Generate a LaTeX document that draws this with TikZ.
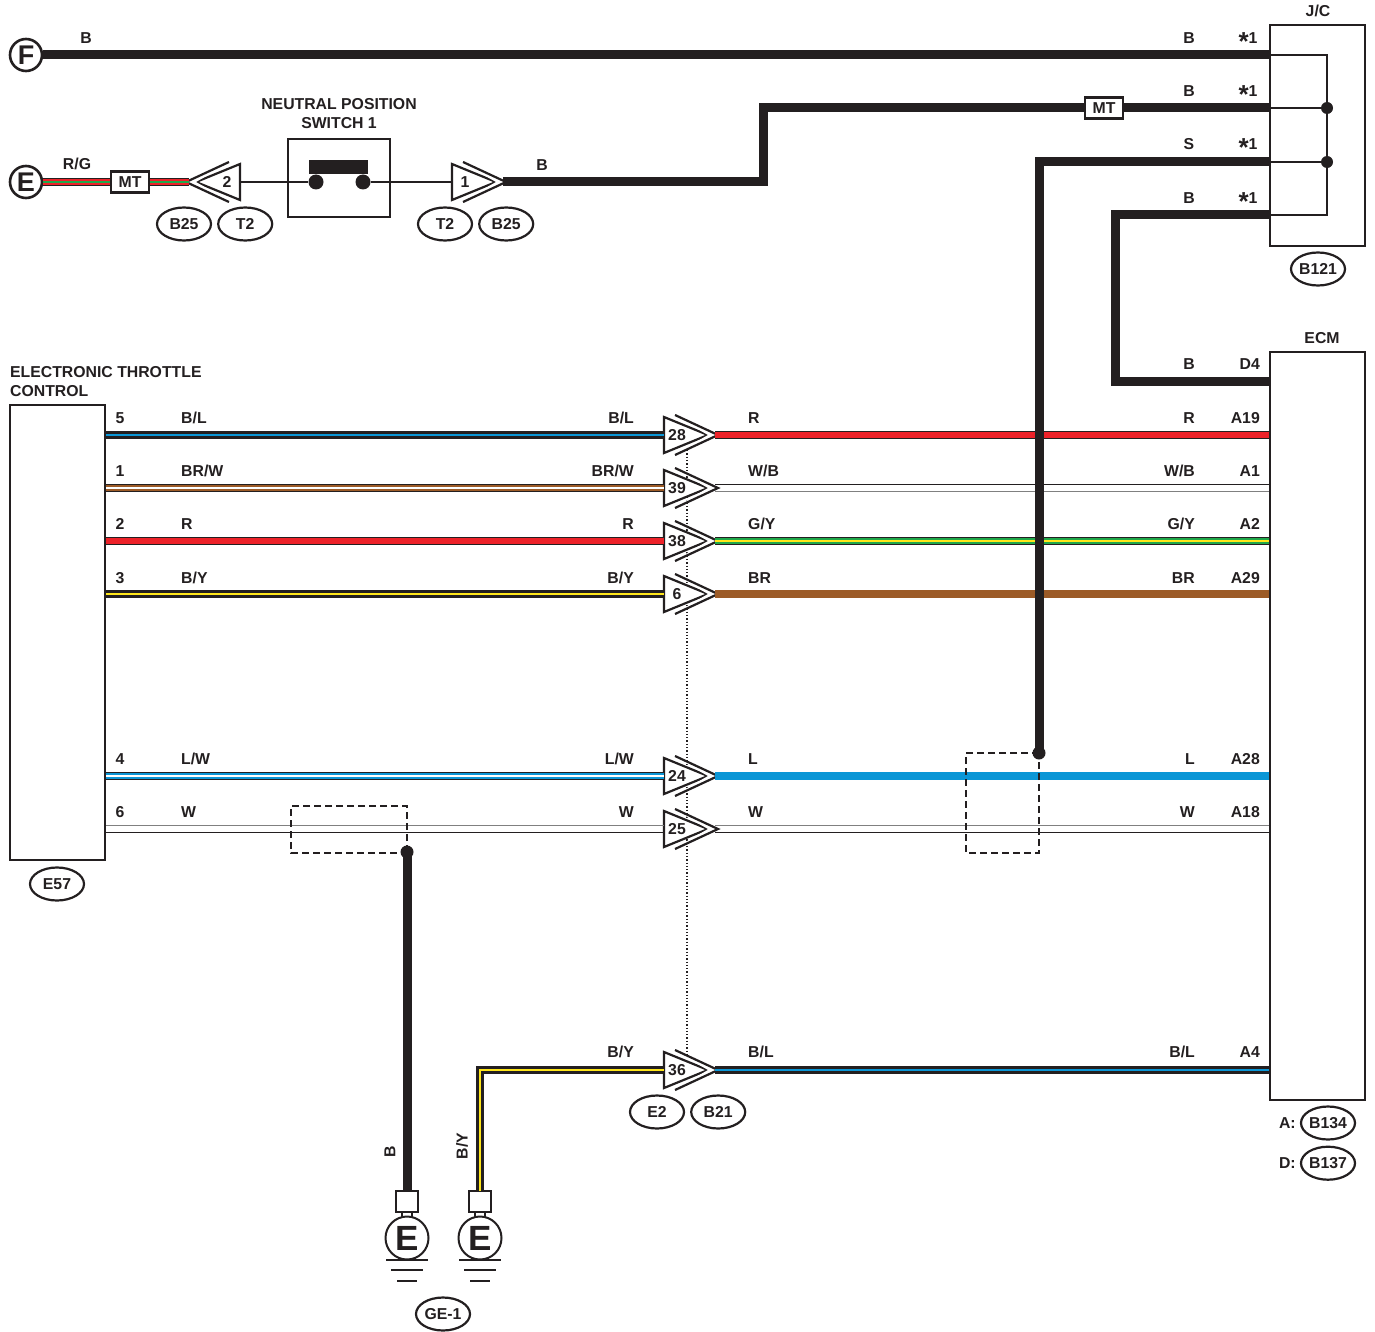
\documentclass[tikz,border=0pt]{standalone}
\usepackage{fontspec}
\setmainfont{Liberation Sans}
\usepackage{xcolor}
\usetikzlibrary{positioning,shapes.geometric}
\definecolor{inkblk}{HTML}{231F20}
\definecolor{wireblue}{HTML}{0A96D6}
\definecolor{wirered}{HTML}{ED2229}
\definecolor{wirebrown}{HTML}{9C5B27}
\definecolor{wiregreen}{HTML}{1FA84A}
\definecolor{wireyellow}{HTML}{FFE61A}
\newcommand{\wire}[3]{%
  \draw[wout] #3;
  \draw[wmid=#1] #3;
  \draw[wcore=#2] #3;}
\newcommand{\starone}{\smash{\raisebox{-7.5pt}{\fontsize{26}{26}\selectfont *}}1}
\tikzset{
  wout/.style={draw=inkblk, line width=8.2pt},
  wmid/.style={draw=#1, line width=6.2pt},
  wcore/.style={draw=#1, line width=2.4pt},
  thick wire/.style={draw=inkblk, line width=9pt},
  flat wire/.style={draw=#1, line width=8.5pt},
  thin wire/.style={draw=inkblk, line width=2pt},
  bare line/.style={draw=#1, line width=1.8pt},
  oval/.style={ellipse, draw=inkblk, line width=2.2pt, minimum width=54pt, minimum height=33pt},
  unit/.style={rectangle, draw=inkblk, line width=2.2pt},
  mtbox/.style={unit, fill=white, minimum width=38pt, minimum height=21pt},
  endcircle/.style={circle, draw=inkblk, line width=2.6pt, fill=white, minimum size=32pt, font=\fontsize{27}{27}\bfseries\selectfont},
  dot/.style={circle, fill=inkblk, minimum size=#1},
  conn/.pic={
    \draw[draw=inkblk, line width=2.2pt, miter limit=10, fill=white] (0,-18) -- (44,0) -- (0,18) -- cycle;
    \fill[white] (11,-19) -- (54,0) -- (11,19) -- (44,0) -- cycle;
    \draw[draw=inkblk, line width=2.2pt, miter limit=10] (11,-20) -- (54,0) -- (11,20);
    \node (-num) at (13,0) {#1};
    \coordinate (-in) at (0,0);
    \coordinate (-out) at (51,0);
    \coordinate (-inup) at (0,-3.5);
    \coordinate (-indn) at (0,3.5);
    \coordinate (-outup) at (51,-3.5);
    \coordinate (-outdn) at (51,3.5);
  },
  gnd/.pic={
    \draw[draw=inkblk, line width=2pt] (-5,20) -- (-5,27) (5,20) -- (5,27);
    \draw[draw=inkblk, line width=2pt, fill=white] (0,47) circle (21.5);
    \draw[draw=inkblk, line width=2pt, fill=white] (-11,0) rectangle (11,21);
    \node[font=\fontsize{35}{35}\bfseries\selectfont] (-e) at (0,47) {E};
    \draw[draw=inkblk, line width=2pt] (-21,69) -- (21,69) (-16,79) -- (16,79) (-10,90) -- (10,90);
    \coordinate (-top) at (0,0);
  }
}
\begin{document}
\begin{tikzpicture}[x=1pt, y=-1pt, every node/.style={inner sep=0pt, text=inkblk, font=\fontsize{15.8}{19}\bfseries\selectfont}]
    \useasboundingbox (0,0) rectangle (1375,1332);
    \node[unit, minimum width=95pt, minimum height=221pt] (jc) at (1317.5,135.5) {};
    \node[unit, minimum width=95pt, minimum height=748pt] (ecm) at (1317.5,726) {};
    \node[unit, minimum width=95pt, minimum height=455pt] (etc) at (57.5,632.5) {};
    \node[unit, minimum width=102pt, minimum height=78pt] (sw) at (339,178) {};
    \node[endcircle] (endf) at (26,55) {F};
    \node[endcircle] (ende) at (26,182) {E};
    % dotted link between the connectors
    \coordinate (linktop) at (687,450);
    \coordinate (linkbot) at (687,1055);
    \draw[draw=inkblk, line width=1.3pt, dotted] (linktop) -- (linkbot);
    % connectors
    \pic (c28) at (664,435) {conn=28};
    \pic (c39) at (664,488) {conn=39};
    \pic (c38) at (664,541) {conn=38};
    \pic (c6) at (664,594) {conn=6};
    \pic (c24) at (664,776) {conn=24};
    \pic (c25) at (664,829) {conn=25};
    \pic (c36) at (664,1070) {conn=36};
    \pic (c1) at (452,182) {conn=1};
    \pic[xscale=-1] (c2) at (240,182) {conn=2};
    \pic (g1) at (407,1191) {gnd};
    \pic (g2) at (480,1191) {gnd};
    % junction box
    \coordinate (jc1) at (1270,55);
    \coordinate (jc2) at (1270,108);
    \coordinate (jc3) at (1270,162);
    \coordinate (jc4) at (1270,215);
    \node[dot=12pt] (ja) at (1327,108) {};
    \node[dot=12pt] (jb) at (1327,162) {};
    \draw[thin wire] (jc1) -| (jb.center) |- (jc4);
    \draw[thin wire] (jc2) -- (ja);
    \draw[thin wire] (jc3) -- (jb);
    % upper harness
    \draw[thick wire] (endf) -- (jc1);
    \node[mtbox] (mta) at (130,182) {MT};
    \wire{wirered}{wiregreen}{(ende) -- (mta)}
    \wire{wirered}{wiregreen}{(mta) -- (c2-out)}
    \node[mtbox] (mtb) at (1104,108) {MT};
    \draw[thick wire] (c1-out) -| (763,108) -- (mtb);
    \draw[thick wire] (mtb) -- (jc2);
    \coordinate (ecd4) at (1270,381);
    \draw[thick wire] (jc4) -| (1115,381) -- (ecd4);
    % switch
    \fill[inkblk] (309,160) rectangle (368,174);
    \node[dot=15pt] (swa) at (316,182) {};
    \node[dot=15pt] (swb) at (363,182) {};
    \draw[thin wire] (c2-in) -- (swa);
    \draw[thin wire] (swb) -- (c1-in);
    % rows between control unit and ECM
    \wire{inkblk}{wireblue}{(etc.east |- c28-in) -- (c28-in)}
    \wire{wirered}{wirered}{(c28-out) -- (ecm.west |- c28-in)}
    \wire{wirebrown}{white}{(etc.east |- c39-in) -- (c39-in)}
    \draw[bare line=inkblk] (c39-outup) -- (ecm.west |- c39-outup);
    \draw[bare line=black!50] (c39-outdn) -- (ecm.west |- c39-outdn);
    \wire{wirered}{wirered}{(etc.east |- c38-in) -- (c38-in)}
    \wire{wiregreen}{wireyellow}{(c38-out) -- (ecm.west |- c38-in)}
    \wire{inkblk}{wireyellow}{(etc.east |- c6-in) -- (c6-in)}
    \draw[flat wire=wirebrown] (c6-out) -- (ecm.west |- c6-in);
    \wire{wireblue}{white}{(etc.east |- c24-in) -- (c24-in)}
    \draw[flat wire=wireblue] (c24-out) -- (ecm.west |- c24-in);
    \draw[bare line=black!50] (etc.east |- c25-inup) -- (c25-inup);
    \draw[bare line=inkblk] (etc.east |- c25-indn) -- (c25-indn);
    \draw[bare line=black!50] (c25-outup) -- (ecm.west |- c25-outup);
    \draw[bare line=inkblk] (c25-outdn) -- (ecm.west |- c25-outdn);
    \wire{inkblk}{wireblue}{(c36-out) -- (ecm.west |- c36-in)}
    % this one runs over the rows
    \node[dot=13pt] (spa) at (1039,753) {};
    \draw[thick wire] (spa.center) |- (jc3);
    % ground wires
    \node[dot=13pt] (spb) at (407,852) {};
    \draw[thick wire] (spb.center) -- (g1-top);
    \wire{inkblk}{wireyellow}{(g2-top) -- (480,1070) -- (c36-in)}
    \draw[draw=inkblk, line width=1.6pt, dash pattern=on 7pt off 4pt] (407,852) -- (407,806) -- (291,806) -- (291,853) -- (407,853);
    \draw[draw=inkblk, line width=1.6pt, dash pattern=on 7pt off 4pt] (1039,753) -- (966,753) -- (966,853) -- (1039,853) -- (1039,753);
    % titles
    \node (tjc) at (1318,11) {J/C};
    \node (tecm) at (1322,338) {ECM};
    \node[align=center] (tsw) at (339,114) {NEUTRAL POSITION\\SWITCH 1};
    \node[align=left, anchor=west] (tetc) at (10,382) {ELECTRONIC THROTTLE\\CONTROL};
    % upper labels
    \node (la) at (86,38) {B};
    \node (lb) at (1189,38) {B};
    \node (lc) at (1189,91) {B};
    \node (ld) at (1189,144) {S};
    \node (le) at (1189,198) {B};
    \node (s1) at (1248,38) {\starone};
    \node (s2) at (1248,91) {\starone};
    \node (s3) at (1248,144) {\starone};
    \node (s4) at (1248,198) {\starone};
    \node (lf) at (77,164) {R/G};
    \node (lg) at (542,165) {B};
    \node (lh) at (1189,364) {B};
    \node[anchor=east] (li) at (1260,364) {D4};
    % pins at the control unit
    \node (p5) at (120,418) {5};
    \node (p1) at (120,471) {1};
    \node (p2) at (120,524) {2};
    \node (p3) at (120,578) {3};
    \node (p4) at (120,759) {4};
    \node (p6) at (120,812) {6};
    \node[anchor=west] (w1) at (181,418) {B/L};
    \node[anchor=west] (w2) at (181,471) {BR/W};
    \node[anchor=west] (w3) at (181,524) {R};
    \node[anchor=west] (w4) at (181,578) {B/Y};
    \node[anchor=west] (w5) at (181,759) {L/W};
    \node[anchor=west] (w6) at (181,812) {W};
    \node[anchor=east] (x1) at (634,418) {B/L};
    \node[anchor=east] (x2) at (634,471) {BR/W};
    \node[anchor=east] (x3) at (634,524) {R};
    \node[anchor=east] (x4) at (634,578) {B/Y};
    \node[anchor=east] (x5) at (634,759) {L/W};
    \node[anchor=east] (x6) at (634,812) {W};
    \node[anchor=east] (x7) at (634,1052) {B/Y};
    \node[anchor=west] (y1) at (748,418) {R};
    \node[anchor=west] (y2) at (748,471) {W/B};
    \node[anchor=west] (y3) at (748,524) {G/Y};
    \node[anchor=west] (y4) at (748,578) {BR};
    \node[anchor=west] (y5) at (748,759) {L};
    \node[anchor=west] (y6) at (748,812) {W};
    \node[anchor=west] (y7) at (748,1052) {B/L};
    \node[anchor=east] (z1) at (1195,418) {R};
    \node[anchor=east] (z2) at (1195,471) {W/B};
    \node[anchor=east] (z3) at (1195,524) {G/Y};
    \node[anchor=east] (z4) at (1195,578) {BR};
    \node[anchor=east] (z5) at (1195,759) {L};
    \node[anchor=east] (z6) at (1195,812) {W};
    \node[anchor=east] (z7) at (1195,1052) {B/L};
    \node[anchor=east] (a19) at (1260,418) {A19};
    \node[anchor=east] (a1) at (1260,471) {A1};
    \node[anchor=east] (a2) at (1260,524) {A2};
    \node[anchor=east] (a29) at (1260,578) {A29};
    \node[anchor=east] (a28) at (1260,759) {A28};
    \node[anchor=east] (a18) at (1260,812) {A18};
    \node[anchor=east] (a4) at (1260,1052) {A4};
    \node[rotate=90] (vb) at (390,1152) {B};
    \node[rotate=90] (vby) at (462,1146) {B/Y};
    % connector references
    \node[oval] (rb25a) at (184,224) {B25};
    \node[oval, right=5pt of rb25a] (rt2a) {T2};
    \node[oval] (rt2b) at (445,224) {T2};
    \node[oval, right=5pt of rt2b] (rb25b) {B25};
    \node[oval] (rb121) at (1318,269) {B121};
    \node[oval] (re57) at (57,884) {E57};
    \node[oval] (re2) at (657,1112) {E2};
    \node[oval, right=5pt of re2] (rb21) {B21};
    \node[oval] (rge) at (443,1314) {GE-1};
    \node[oval] (rb134) at (1328,1123) {B134};
    \node[oval, below=5pt of rb134] (rb137) {B137};
    \node[left=4pt of rb134] (ra) {A:};
    \node[left=4pt of rb137] (rd) {D:};
  \end{tikzpicture}
\end{document}
